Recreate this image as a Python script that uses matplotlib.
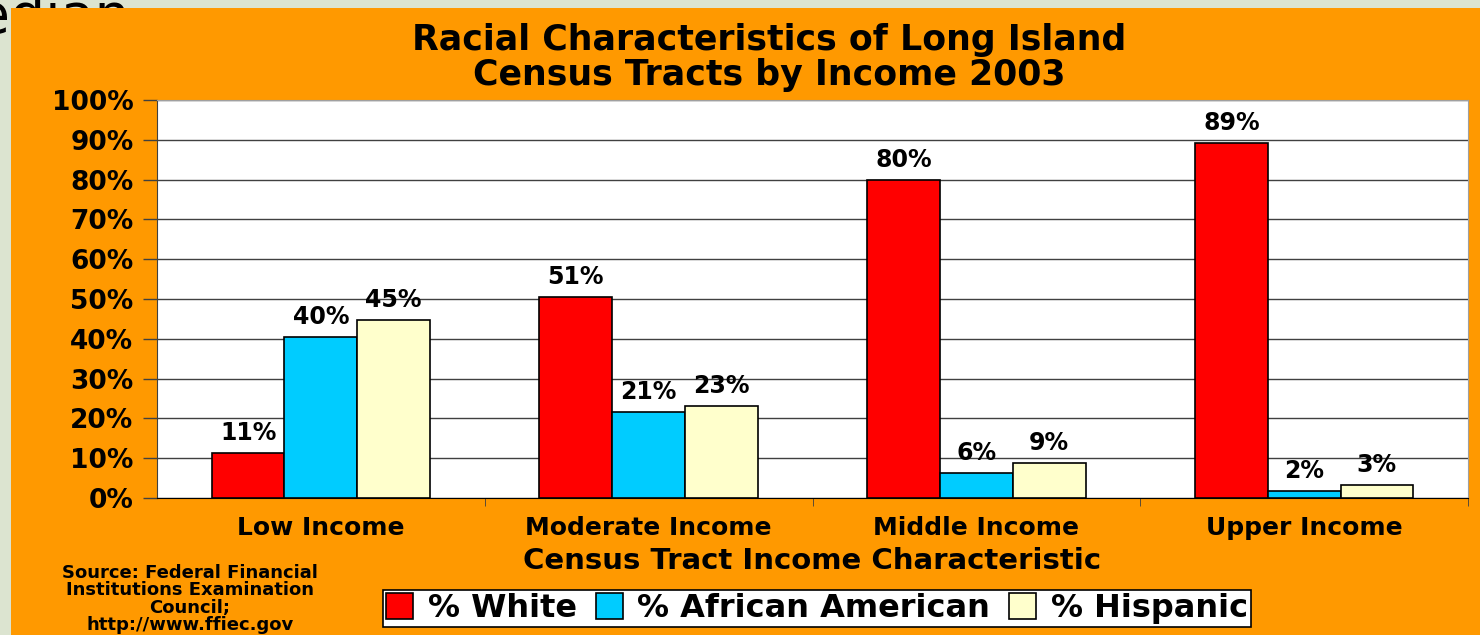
import numpy as np
import matplotlib.pyplot as plt
from matplotlib.patches import Rectangle, Polygon

# Du lieu doc tu hinh
nhom = ['Low Income', 'Moderate Income', 'Middle Income', 'Upper Income']
white = [11.3, 50.6, 80.0, 89.2]
african = [40.4, 21.6, 6.3, 1.8]
hispanic = [44.8, 23.1, 8.8, 3.3]
nhan_white = ['11%', '51%', '80%', '89%']
nhan_african = ['40%', '21%', '6%', '2%']
nhan_hispanic = ['45%', '23%', '9%', '3%']
ten_series = ['% White', '% African American', '% Hispanic']
mau = ['#FF0000', '#00CCFF', '#FFFFCC']

plt.rcParams['font.family'] = ['DejaVu Sans']
plt.rcParams['font.weight'] = 'bold'

fig = plt.figure(figsize=(14.8, 6.35), dpi=100)
fig.patch.set_facecolor('#DCE4D0')

# khung nen mau cam
x0, y0 = 11 / 1480, 1 - 8 / 635
khung = Rectangle((x0, 0), 1, y0, transform=fig.transFigure,
                  facecolor='#FF9900', edgecolor='none', zorder=1)
fig.add_artist(khung)

# chu "Median" cua slide, chi thay phan nam ngoai khung cam
chu = fig.text(-0.0486, 1 - 33 / 635, 'Median', fontsize=40, fontweight='normal', color='black',
               ha='left', va='baseline', zorder=-1)
vung = Polygon([(0, 0), (x0, 0), (x0, y0), (1, y0), (1, 1), (0, 1)], closed=True,
               transform=fig.transFigure)
chu.set_clip_path(vung)

ax = fig.add_axes([157 / 1480, 1 - 498 / 635, (1468 - 157) / 1480, 398 / 635])
ax.set_zorder(2)
ax.set_facecolor('white')

x = np.arange(len(nhom))
w = 0.222
cac_series = [white, african, hispanic]
cac_nhan = [nhan_white, nhan_african, nhan_hispanic]
for i, (vals, nhan) in enumerate(zip(cac_series, cac_nhan)):
    vt = x + (i - 1) * w
    ax.bar(vt, vals, width=w, color=mau[i], edgecolor='black', linewidth=1.2,
           label=ten_series[i], zorder=3)
    for xx, v, t in zip(vt, vals, nhan):
        ax.text(xx, v + 2.0, t, ha='center', va='bottom', fontsize=17, fontweight='bold')

ax.set_xlim(-0.5, len(nhom) - 0.5)
ax.set_ylim(0, 100)
ax.set_yticks(np.arange(0, 101, 10))
ax.set_yticklabels([f'{v}%' for v in range(0, 101, 10)], fontsize=19, fontweight='bold')
ax.yaxis.grid(True, color='#404040', linewidth=1)
ax.set_axisbelow(True)
ax.tick_params(axis='y', length=10, width=1, color='#404040', pad=7)

ax.set_xticks(x)
ax.set_xticklabels(nhom, fontsize=18, fontweight='bold')
ax.set_xticks(np.arange(0.5, len(nhom), 1), minor=True)
ax.tick_params(axis='x', which='major', length=0, pad=13)
ax.tick_params(axis='x', which='minor', length=6, color='#404040')
ax.set_xlabel('Census Tract Income Characteristic', fontsize=21, fontweight='bold', labelpad=5)

for s in ['top', 'right']:
    ax.spines[s].set_color('#A0A0A0')
ax.spines['left'].set_color('#404040')
ax.spines['bottom'].set_color('black')

fig.text(0.52, 1 - 40 / 635, 'Racial Characteristics of Long Island', ha='center', va='center',
         fontsize=25, fontweight='bold')
fig.text(0.52, 1 - 75 / 635, 'Census Tracts by Income 2003', ha='center', va='center',
         fontsize=25, fontweight='bold')

fig.text(190 / 1480, 1 - 599 / 635,
         'Source: Federal Financial\nInstitutions Examination\nCouncil;\nhttp://www.ffiec.gov',
         ha='center', va='center', fontsize=13, fontweight='bold', linespacing=0.95)

leg = fig.legend(loc='center', bbox_to_anchor=(817 / 1480, 1 - 608.5 / 635), ncol=3,
                 frameon=True, fancybox=False, edgecolor='black', facecolor='white', framealpha=1,
                 handlelength=0.85, handleheight=0.85, handletextpad=0.45, columnspacing=0.6,
                 borderpad=0.08, borderaxespad=0, prop={'weight': 'bold', 'size': 23})
leg.get_frame().set_linewidth(1.2)
leg.set_zorder(5)

fig.savefig('out.png', dpi=100, facecolor=fig.get_facecolor())
